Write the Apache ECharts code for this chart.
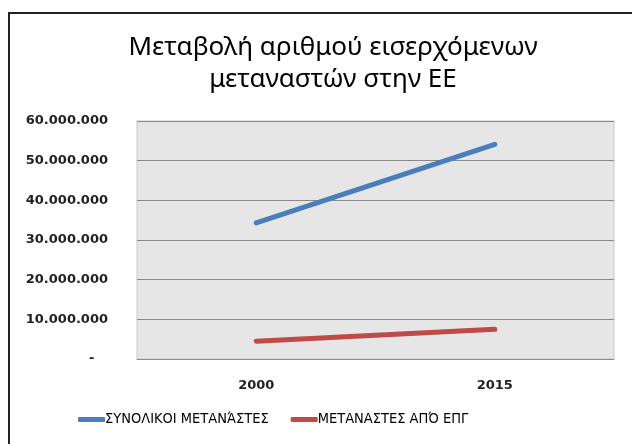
<!DOCTYPE html>
<html><head><meta charset="utf-8">
<script src="https://cdn.jsdelivr.net/npm/echarts@6/dist/echarts.min.js"></script>
<style>html,body{margin:0;padding:0;background:#fff;}#c{width:632px;height:444px;}</style>
</head><body><div id="c"></div>
<script>
const categories = ['2000', '2015'];
const totalMigrants = [34300000, 54100000];
const epgMigrants = [4500000, 7500000];
const seriesNames = ['ΣΥΝΟΛΙΚΟΙ ΜΕΤΑΝΆΣΤΕΣ', 'ΜΕΤΑΝΑΣΤΕΣ ΑΠΌ ΕΠΓ'];
const titleLines = ['Μεταβολή αριθμού εισερχόμενων', 'μεταναστών στην ΕΕ'];

function fmt(v){
  if (v === 0) return '-   ';
  return String(v).replace(/\B(?=(\d{3})+(?!\d))/g, '.');
}
const chart = echarts.init(document.getElementById('c'));
chart.setOption({
  animation: false,
  backgroundColor: '#fff',
  title: {
    text: titleLines.join('\n'),
    left: 328, top: 27, textAlign: 'center',
    textStyle: {fontFamily: 'Noto Sans', fontWeight: 'normal', fontSize: 26, lineHeight: 32, color: '#000'}
  },
  graphic: [{
    type: 'polyline', shape: {points: [[9, 460], [9, 13], [640, 13]]},
    style: {stroke: '#222', lineWidth: 2, fill: null}
  }],
  legend: {
    bottom: 12, left: 73, itemGap: 22, itemWidth: 27, itemHeight: 5, icon: 'roundRect',
    textStyle: {fontFamily: 'DejaVu Sans Condensed, Liberation Sans', fontSize: 14.5, color: '#000', padding: [0, 0, 0, -5]},
    data: seriesNames
  },
  grid: {left: 137, right: 18, top: 121, bottom: 85, show: true, backgroundColor: '#e6e6e6', borderColor: '#c8c8c8', borderWidth: 1},
  xAxis: {
    type: 'category', data: categories, boundaryGap: true,
    axisLine: {lineStyle: {color: '#8a8a8a'}}, axisTick: {show: false},
    axisLabel: {fontFamily: 'DejaVu Sans', fontWeight: 'bold', fontSize: 13, color: '#222', margin: 20}
  },
  yAxis: {
    type: 'value', min: 0, max: 60000000, interval: 10000000,
    axisLine: {show: false}, axisTick: {show: false},
    splitLine: {lineStyle: {color: '#8a8a8a'}},
    axisLabel: {fontFamily: 'DejaVu Sans', fontWeight: 'bold', fontSize: 13, color: '#222', margin: 29, formatter: fmt}
  },
  series: [
    {name: seriesNames[0], type: 'line', data: totalMigrants, showSymbol: false, lineStyle: {width: 5, color: '#4a7ebb', cap: 'round'}, itemStyle: {color: '#4a7ebb'}},
    {name: seriesNames[1], type: 'line', data: epgMigrants, showSymbol: false, lineStyle: {width: 5, color: '#be4b48', cap: 'round'}, itemStyle: {color: '#be4b48'}}
  ]
});
</script></body></html>
